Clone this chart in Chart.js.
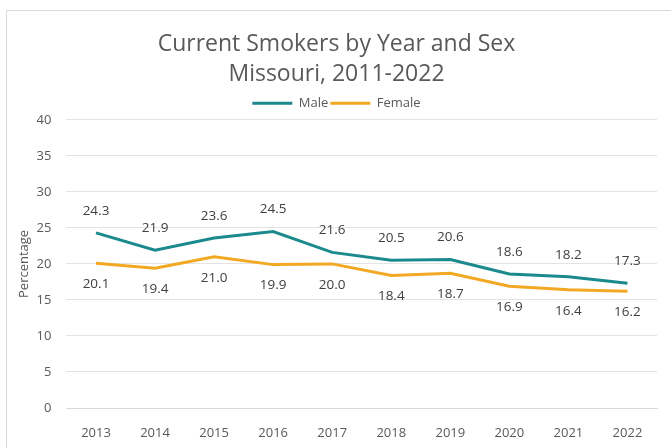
<!DOCTYPE html>
<html>
<head>
<meta charset="utf-8">
<script src="https://cdn.jsdelivr.net/npm/chart.js@4"></script>
<style>
  html, body { margin: 0; padding: 0; background: #fff; }
  #frame {
    position: absolute; left: 6px; top: 10px; width: 670px; height: 445px;
    border: 1px solid #d9d9d9; box-sizing: border-box;
  }
  #wrap { position: absolute; left: 0; top: 0; width: 671px; height: 448px; }
</style>
</head>
<body>
<div id="frame"></div>
<div id="wrap"><canvas id="smokersChart" width="671" height="448"></canvas></div>
<script>
const years = ["2013", "2014", "2015", "2016", "2017", "2018", "2019", "2020", "2021", "2022"];
const maleValues = [24.3, 21.9, 23.6, 24.5, 21.6, 20.5, 20.6, 18.6, 18.2, 17.3];
const femaleValues = [20.1, 19.4, 21.0, 19.9, 20.0, 18.4, 18.7, 16.9, 16.4, 16.2];
const yTicks = [0, 5, 10, 15, 20, 25, 30, 35, 40];

const FONT = "'Open Sans', 'Liberation Sans', sans-serif";

// draw the value labels: male above the line, female below it
const valueLabels = {
  id: "valueLabels",
  afterDatasetsDraw(chart) {
    const ctx = chart.ctx;
    ctx.save();
    ctx.font = "13.5px " + FONT;
    ctx.fillStyle = "#404040";
    ctx.textAlign = "center";
    ctx.textBaseline = "middle";
    chart.data.datasets.forEach((ds, i) => {
      const meta = chart.getDatasetMeta(i);
      meta.data.forEach((pt, j) => {
        const dy = i === 0 ? -22 : 21;
        ctx.fillText(ds.data[j].toFixed(1), pt.x, pt.y + dy);
      });
    });
    ctx.restore();
  },
};

new Chart(document.getElementById("smokersChart").getContext("2d"), {
  type: "line",
  data: {
    labels: years,
    datasets: [
      {
        label: "Male",
        data: maleValues,
        borderColor: "#1b8a8c",
        backgroundColor: "#1b8a8c",
        borderWidth: 3,
        pointRadius: 0,
        tension: 0,
        fill: false,
      },
      {
        label: "Female",
        data: femaleValues,
        borderColor: "#f2a823",
        backgroundColor: "#f2a823",
        borderWidth: 3,
        pointRadius: 0,
        tension: 0,
        fill: false,
      },
    ],
  },
  options: {
    responsive: false,
    animation: false,
    layout: { padding: { top: 30, right: 14, bottom: 0, left: 16 } },
    scales: {
      x: {
        offset: true,
        grid: { display: false, drawTicks: false },
        border: { color: "#d9d9d9" },
        ticks: { color: "#595959", font: { family: FONT, size: 13 }, maxRotation: 0, padding: 17 },
        afterFit: (scale) => { scale.height = 40; },
      },
      y: {
        min: 0,
        max: 40,
        afterBuildTicks: (axis) => { axis.ticks = yTicks.map((v) => ({ value: v })); },
        grid: { color: "#e3e3e3", drawTicks: false },
        border: { display: false },
        ticks: { color: "#595959", font: { family: FONT, size: 13 }, padding: 15 },
        title: {
          display: true,
          text: "Percentage",
          color: "#595959",
          font: { family: FONT, size: 13 },
          padding: { top: 0, bottom: -10 },
        },
      },
    },
    plugins: {
      title: {
        display: true,
        text: ["Current Smokers by Year and Sex", "Missouri, 2011-2022"],
        color: "#595959",
        font: { family: FONT, size: 23, weight: "normal", lineHeight: 1.3 },
        padding: { top: 0, bottom: 5 },
      },
      legend: {
        position: "top",
        labels: {
          usePointStyle: true,
          pointStyle: "line",
          pointStyleWidth: 40,
          color: "#595959",
          font: { family: FONT, size: 13, lineHeight: 1 },
          padding: 2,
        },
      },
      tooltip: { enabled: false },
    },
  },
  plugins: [valueLabels],
});
</script>
</body>
</html>
